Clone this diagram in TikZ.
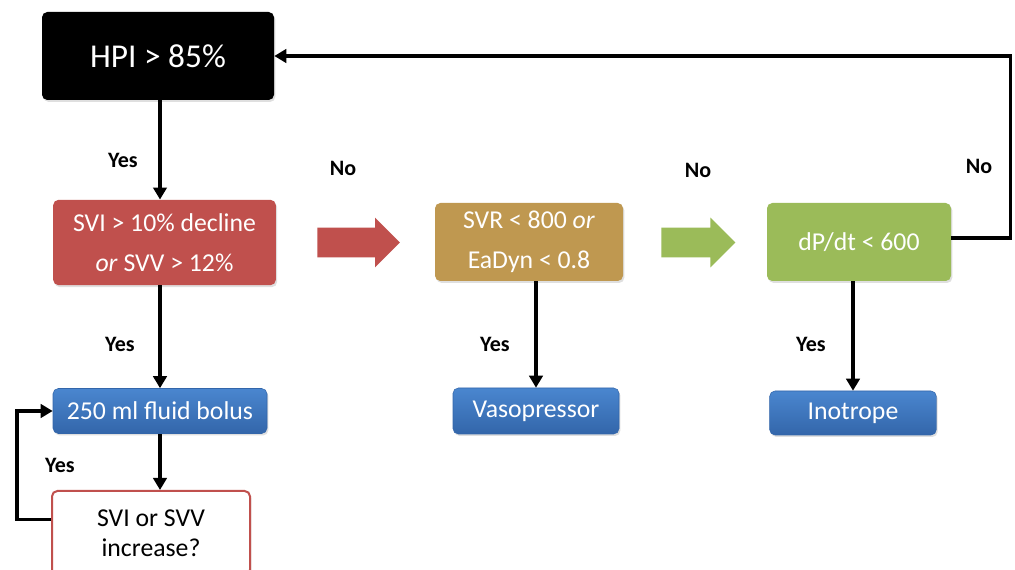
\documentclass[tikz,border=0pt]{standalone}
\usepackage{fontspec}
\setmainfont{Carlito}
\usetikzlibrary{positioning, shapes.arrows, arrows.meta, shadows}
\definecolor{hpired}{HTML}{C0504D}
\definecolor{hpigold}{HTML}{BF9850}
\definecolor{hpigreen}{HTML}{9BBB59}
\definecolor{hpiblue}{HTML}{4A86CF}
\definecolor{hpidarkblue}{HTML}{3366AA}

\tikzset{
  box/.style={rounded corners=4pt, align=center, text=white, inner sep=2pt,
    drop shadow={opacity=0.25, shadow xshift=1pt, shadow yshift=-1.5pt},
    font=\fontsize{19.3}{30}\selectfont},
  bluebox/.style={box, top color=hpiblue, bottom color=hpidarkblue, draw=hpidarkblue,
    line width=0.4pt},
  flow/.style={line width=2.6pt, -{Triangle[length=9pt, width=10pt]}},
  answer/.style={font=\fontsize{16.5}{19}\selectfont\bfseries},
  bigarrow/.style={single arrow, inner xsep=0pt, inner ysep=10.9pt, anchor=tail,
    single arrow head extend=7.5pt, single arrow tip angle=90},
}

\begin{document}
\begin{tikzpicture}[x=0.75pt, y=-0.75pt]
  \clip (0,0) rectangle (1015,570);
  \fill[white] (0,0) rectangle (1015,570);

  % decision boxes
  \node[box, fill=black, minimum width=174pt, minimum height=66pt,
    font=\fontsize{25}{28}\selectfont] (hpi) at (158,56) {HPI > 85\%};
  \node[box, fill=hpired, minimum width=167pt, minimum height=64pt] (svi) at (164.5,242.5)
    {SVI > 10\% decline\\\textit{or} SVV > 12\%};
  \node[box, fill=hpigold, minimum width=141pt, minimum height=58.5pt] (svr) at (529,242)
    {SVR < 800 \textit{or}\\EaDyn < 0.8};
  \node[box, fill=hpigreen, minimum width=138pt, minimum height=58.5pt] (dpdt) at (859,242)
    {dP/dt < 600};

  % treatments
  \node[bluebox, minimum width=160.5pt, minimum height=33.75pt] (bolus) at (160,411)
    {250 ml fluid bolus};
  \node[bluebox, minimum width=124.5pt, minimum height=34.5pt] (vaso) at (536,411)
    {Vasopressor};
  \node[bluebox, minimum width=125pt, minimum height=33pt] (ino) at (853,413)
    {Inotrope};
  \node[box, fill=white, draw=hpired, line width=1.5pt, text=black,
    minimum width=148.5pt, minimum height=63pt, font=\fontsize{19.3}{22.5}\selectfont]
    (incr) at (151,533) {SVI or SVV\\increase?};

  % "No" block arrows
  \node[bigarrow, fill=hpired, minimum height=62pt] (noone) at (317,242.5) {};
  \node[bigarrow, fill=hpigreen, minimum height=55.5pt] (notwo) at (661,242.5) {};

  % connectors
  \draw[flow] (hpi.south -| bolus) -- (svi.north -| bolus);
  \draw[flow] (svi.south -| bolus) -- (bolus.north);
  \draw[flow] (bolus.south) -- (incr.north -| bolus);
  \draw[flow] ([yshift=10pt]incr.west) -- ++(-34,0) |- (bolus.west);
  \draw[flow] (vaso.north |- svr.south) -- (vaso.north);
  \draw[flow] (ino.north |- dpdt.south) -- (ino.north);
  \draw[flow] ([yshift=3pt]dpdt.east) -- ++(59,0) |- (hpi.east);

  % answers
  \node[answer] (yhpi) at (123,160) {Yes};
  \node[answer] (ysvi) at (120,344) {Yes};
  \node[answer] (yloop) at (60,465) {Yes};
  \node[answer] (ysvr) at (495,344) {Yes};
  \node[answer] (ydpdt) at (811,344) {Yes};
  \node[answer] (nsvi) at (343,168) {No};
  \node[answer] (nsvr) at (698,170) {No};
  \node[answer] (ndpdt) at (979,166) {No};
\end{tikzpicture}
\end{document}
